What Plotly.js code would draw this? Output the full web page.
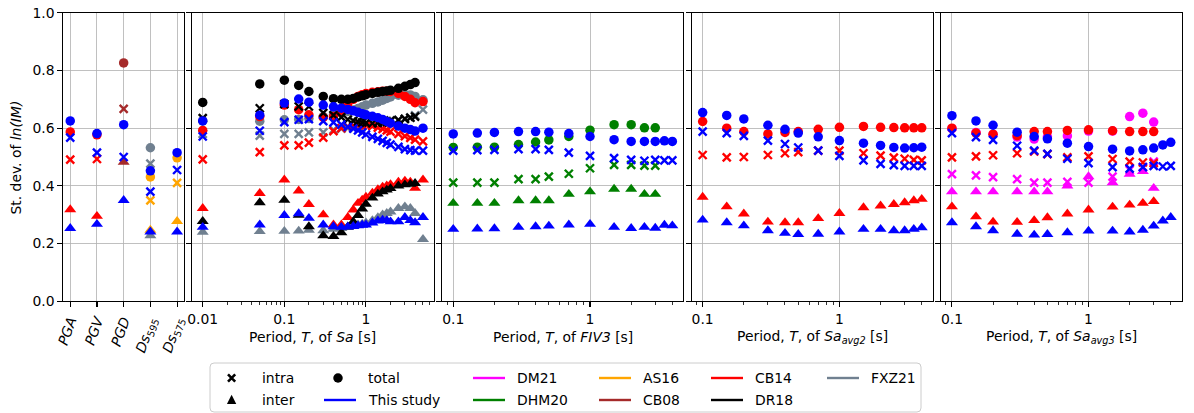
<!DOCTYPE html>
<html>
<head>
<meta charset="utf-8">
<script src="https://cdn.plot.ly/plotly-3.0.1.min.js"></script>
<style>
  html, body { margin: 0; padding: 0; background: #ffffff; }
  #chart { width: 1194px; height: 413px; }
</style>
</head>
<body>
<div id="chart"></div>
<script>
// ---------------- data ----------------
// Scalar intensity measures (first panel)
const imNames = ['PGA', 'PGV', 'PGD', 'Ds595', 'Ds575'];
const imTickText = ['<i>PGA</i>', '<i>PGV</i>', '<i>PGD</i>', '<i>Ds</i><sub>595</sub>', '<i>Ds</i><sub>575</sub>'];

const thisStudyIM = ['PGA', 'PGV', 'PGD', 'Ds595', 'Ds575'];
const thisStudyIMTotal = [0.625, 0.581, 0.612, 0.452, 0.515];
const thisStudyIMIntra = [0.567, 0.515, 0.500, 0.380, 0.455];
const thisStudyIMInter = [0.253, 0.267, 0.350, 0.241, 0.241];

const cb14IM = ['PGA', 'PGV'];
const cb14IMTotal = [0.587, 0.577];
const cb14IMIntra = [0.491, 0.493];
const cb14IMInter = [0.318, 0.295];

const cb08IM = ['PGD'];
const cb08IMTotal = [0.826];
const cb08IMIntra = [0.667];
const cb08IMInter = [0.482];

const as16IM = ['Ds595', 'Ds575'];
const as16IMTotal = [0.431, 0.497];
const as16IMIntra = [0.350, 0.410];
const as16IMInter = [0.247, 0.277];

const fxz21IM = ['Ds595'];
const fxz21IMTotal = [0.532];
const fxz21IMIntra = [0.477];
const fxz21IMInter = [0.228];

// Spectral acceleration, Sa(T)
const saPeriods = [0.01, 0.05, 0.1, 0.15, 0.2, 0.3, 0.4, 0.5, 0.6, 0.7, 0.8, 0.9, 1.0, 1.2, 1.4, 1.6, 1.8, 2.0, 2.5, 3.0, 3.5, 4.0, 5.0];
const saThisTotal = [0.625, 0.645, 0.687, 0.701, 0.690, 0.680, 0.674, 0.669, 0.665, 0.660, 0.655, 0.650, 0.646, 0.641, 0.636, 0.630, 0.623, 0.617, 0.607, 0.600, 0.595, 0.590, 0.600];
const saThisIntra = [0.571, 0.591, 0.621, 0.629, 0.631, 0.624, 0.620, 0.612, 0.604, 0.598, 0.592, 0.585, 0.578, 0.570, 0.563, 0.556, 0.549, 0.543, 0.535, 0.527, 0.524, 0.522, 0.522];
const saThisInter = [0.257, 0.265, 0.298, 0.304, 0.288, 0.265, 0.259, 0.257, 0.258, 0.260, 0.262, 0.264, 0.265, 0.272, 0.279, 0.282, 0.280, 0.276, 0.276, 0.291, 0.280, 0.273, 0.291];

const saCB14Total = [0.592, 0.640, 0.680, 0.664, 0.646, 0.637, 0.640, 0.660, 0.685, 0.700, 0.710, 0.716, 0.720, 0.724, 0.726, 0.728, 0.728, 0.727, 0.720, 0.710, 0.700, 0.688, 0.692];
const saCB14Intra = [0.492, 0.517, 0.540, 0.540, 0.550, 0.567, 0.590, 0.600, 0.605, 0.608, 0.610, 0.610, 0.610, 0.607, 0.602, 0.597, 0.592, 0.588, 0.580, 0.572, 0.566, 0.560, 0.554];
const saCB14Inter = [0.322, 0.374, 0.421, 0.383, 0.336, 0.300, 0.265, 0.265, 0.291, 0.317, 0.340, 0.351, 0.361, 0.375, 0.387, 0.396, 0.400, 0.405, 0.413, 0.417, 0.413, 0.392, 0.421];

const saPeriodsDR18 = [0.01, 0.05, 0.1, 0.15, 0.2, 0.3, 0.4, 0.5, 0.6, 0.7, 0.8, 0.9, 1.0, 1.2, 1.4, 1.6, 1.8, 2.0, 2.5, 3.0, 3.5, 4.0];
const saDR18Total = [0.689, 0.753, 0.766, 0.748, 0.727, 0.710, 0.702, 0.700, 0.700, 0.703, 0.708, 0.712, 0.716, 0.720, 0.724, 0.727, 0.729, 0.731, 0.738, 0.745, 0.751, 0.758];
const saDR18Intra = [0.635, 0.669, 0.683, 0.675, 0.675, 0.653, 0.645, 0.638, 0.630, 0.625, 0.622, 0.620, 0.618, 0.617, 0.618, 0.620, 0.622, 0.625, 0.628, 0.632, 0.636, 0.640];
const saDR18Inter = [0.277, 0.342, 0.351, 0.299, 0.259, 0.228, 0.225, 0.238, 0.258, 0.276, 0.298, 0.320, 0.337, 0.358, 0.372, 0.380, 0.386, 0.391, 0.400, 0.404, 0.406, 0.409];

const saFXZ21Total = [0.625, 0.624, 0.629, 0.630, 0.633, 0.640, 0.646, 0.652, 0.658, 0.663, 0.668, 0.674, 0.680, 0.686, 0.691, 0.697, 0.703, 0.708, 0.714, 0.716, 0.715, 0.710, 0.698];
const saFXZ21Intra = [0.580, 0.574, 0.580, 0.580, 0.585, 0.585, 0.594, 0.598, 0.600, 0.603, 0.606, 0.609, 0.612, 0.616, 0.620, 0.623, 0.625, 0.627, 0.629, 0.632, 0.637, 0.644, 0.664];
const saFXZ21Inter = [0.240, 0.242, 0.243, 0.244, 0.247, 0.245, 0.250, 0.253, 0.257, 0.261, 0.265, 0.268, 0.272, 0.280, 0.290, 0.300, 0.305, 0.310, 0.322, 0.328, 0.322, 0.305, 0.215];

// Filtered incremental velocity, FIV3(T)
const fivPeriods = [0.1, 0.15, 0.2, 0.3, 0.4, 0.5, 0.7, 1.0, 1.5, 2.0, 2.5, 3.0, 3.5, 4.0];
const fivThisTotal = [0.580, 0.583, 0.585, 0.588, 0.588, 0.586, 0.581, 0.571, 0.560, 0.554, 0.554, 0.554, 0.556, 0.554];
const fivThisIntra = [0.522, 0.524, 0.525, 0.527, 0.527, 0.525, 0.515, 0.504, 0.496, 0.490, 0.487, 0.490, 0.488, 0.488];
const fivThisInter = [0.250, 0.251, 0.252, 0.257, 0.259, 0.261, 0.265, 0.267, 0.257, 0.253, 0.257, 0.254, 0.264, 0.262];

const fivPeriodsDHM20 = [0.1, 0.15, 0.2, 0.3, 0.4, 0.5, 0.7, 1.0, 1.5, 2.0, 2.5, 3.0];
const fivDHM20Total = [0.533, 0.534, 0.534, 0.543, 0.552, 0.559, 0.571, 0.593, 0.612, 0.612, 0.601, 0.601];
const fivDHM20Intra = [0.411, 0.411, 0.411, 0.423, 0.423, 0.432, 0.442, 0.461, 0.473, 0.473, 0.470, 0.470];
const fivDHM20Inter = [0.340, 0.340, 0.340, 0.349, 0.349, 0.349, 0.371, 0.380, 0.389, 0.389, 0.371, 0.371];

// Average spectral acceleration, Sa_avg2(T)
const avg2Periods = [0.1, 0.15, 0.2, 0.3, 0.4, 0.5, 0.7, 1.0, 1.5, 2.0, 2.5, 3.0, 3.5, 4.0];
const avg2ThisTotal = [0.654, 0.644, 0.632, 0.610, 0.596, 0.583, 0.570, 0.557, 0.548, 0.540, 0.533, 0.531, 0.532, 0.534];
const avg2ThisIntra = [0.588, 0.583, 0.573, 0.557, 0.545, 0.533, 0.522, 0.504, 0.488, 0.476, 0.472, 0.469, 0.469, 0.469];
const avg2ThisInter = [0.282, 0.273, 0.262, 0.245, 0.236, 0.232, 0.233, 0.241, 0.250, 0.250, 0.245, 0.245, 0.250, 0.255];
const avg2CB14Total = [0.623, 0.600, 0.588, 0.580, 0.585, 0.588, 0.596, 0.603, 0.606, 0.603, 0.602, 0.601, 0.601, 0.601];
const avg2CB14Intra = [0.507, 0.499, 0.500, 0.507, 0.513, 0.517, 0.522, 0.522, 0.513, 0.505, 0.498, 0.494, 0.490, 0.488];
const avg2CB14Inter = [0.361, 0.328, 0.303, 0.275, 0.273, 0.273, 0.287, 0.305, 0.325, 0.331, 0.336, 0.342, 0.349, 0.354];

// Average spectral acceleration, Sa_avg3(T)
const avg3Periods = [0.1, 0.15, 0.2, 0.3, 0.4, 0.5, 0.7, 1.0, 1.5, 2.0, 2.5, 3.0, 3.5, 4.0];
const avg3ThisTotal = [0.643, 0.625, 0.610, 0.586, 0.571, 0.563, 0.548, 0.536, 0.527, 0.521, 0.525, 0.531, 0.542, 0.551];
const avg3ThisIntra = [0.583, 0.569, 0.559, 0.539, 0.522, 0.511, 0.494, 0.479, 0.465, 0.460, 0.465, 0.469, 0.467, 0.469];
const avg3ThisInter = [0.273, 0.259, 0.245, 0.233, 0.230, 0.232, 0.238, 0.244, 0.244, 0.241, 0.247, 0.261, 0.279, 0.291];
const avg3PeriodsShort = [0.1, 0.15, 0.2, 0.3, 0.4, 0.5, 0.7, 1.0, 1.5, 2.0, 2.5, 3.0];
const avg3CB14Total = [0.600, 0.583, 0.579, 0.574, 0.588, 0.588, 0.592, 0.594, 0.591, 0.588, 0.588, 0.588];
const avg3CB14Intra = [0.499, 0.502, 0.506, 0.513, 0.519, 0.510, 0.499, 0.502, 0.493, 0.484, 0.481, 0.479];
const avg3CB14Inter = [0.328, 0.293, 0.275, 0.274, 0.280, 0.290, 0.303, 0.317, 0.327, 0.334, 0.340, 0.346];
const avg3DM21Total = [0.598, 0.585, 0.578, 0.569, 0.562, 0.570, 0.573, 0.590, 0.590, 0.640, 0.652, 0.621];
const avg3DM21Intra = [0.441, 0.436, 0.430, 0.423, 0.411, 0.411, 0.414, 0.411, 0.432, 0.455, 0.465, 0.484];
const avg3DM21Inter = [0.380, 0.380, 0.380, 0.380, 0.380, 0.380, 0.400, 0.432, 0.411, 0.441, 0.450, 0.392];

// Model names and colours
const modelNames = ['This study', 'DM21', 'DHM20', 'AS16', 'CB08', 'CB14', 'DR18', 'FXZ21'];
const modelColors = {
  'This study': '#0000ff', 'DM21': '#ff00ff', 'DHM20': '#008000', 'AS16': '#ffa500',
  'CB08': '#a52a2a', 'CB14': '#ff0000', 'DR18': '#000000', 'FXZ21': '#708090'
};

// ---------------- figure geometry (pixels) ----------------
const W = 1194, H = 413;
const px = v => v / W;
const py = v => 1 - v / H;
const FONT = 'DejaVu Sans, Verdana, sans-serif';
const FS = 13.9;
const yDomain = [py(301.3), py(12.7)];
const panels = [
  [63.3, 184.3], [191.7, 434.0], [442.3, 683.3], [691.7, 932.7], [941.0, 1181.7]
];

// ---------------- traces ----------------
const traces = [];
function addPoints(ax, xs, ys, color, kind) {
  let marker;
  if (kind === 'total') marker = { symbol: 'circle', size: 9.5, color: color, line: { width: 0 } };
  else if (kind === 'inter') marker = { symbol: 'triangle-up', size: 10.5, color: color, line: { width: 0 } };
  else marker = { symbol: 'x-thin-open', size: 8, color: color, line: { color: color, width: 2.4 } };
  traces.push({
    type: 'scatter', mode: 'markers', x: xs, y: ys,
    xaxis: 'x' + (ax === 1 ? '' : ax), yaxis: 'y' + (ax === 1 ? '' : ax),
    marker: marker, hoverinfo: 'skip', showlegend: false, cliponaxis: true
  });
}
function addModel(ax, xs, tot, intra, inter, name) {
  const c = modelColors[name];
  addPoints(ax, xs, tot, c, 'total');
  addPoints(ax, xs, intra, c, 'intra');
  addPoints(ax, xs, inter, c, 'inter');
}

// Panel 1: scalar IMs
addModel(1, fxz21IM, fxz21IMTotal, fxz21IMIntra, fxz21IMInter, 'FXZ21');
addModel(1, as16IM, as16IMTotal, as16IMIntra, as16IMInter, 'AS16');
addModel(1, cb08IM, cb08IMTotal, cb08IMIntra, cb08IMInter, 'CB08');
addModel(1, cb14IM, cb14IMTotal, cb14IMIntra, cb14IMInter, 'CB14');
addModel(1, thisStudyIM, thisStudyIMTotal, thisStudyIMIntra, thisStudyIMInter, 'This study');

// Panel 2: Sa
addModel(2, saPeriods, saFXZ21Total, saFXZ21Intra, saFXZ21Inter, 'FXZ21');
addModel(2, saPeriods, saCB14Total, saCB14Intra, saCB14Inter, 'CB14');
addModel(2, saPeriodsDR18, saDR18Total, saDR18Intra, saDR18Inter, 'DR18');
addModel(2, saPeriods, saThisTotal, saThisIntra, saThisInter, 'This study');

// Panel 3: FIV3
addModel(3, fivPeriodsDHM20, fivDHM20Total, fivDHM20Intra, fivDHM20Inter, 'DHM20');
addModel(3, fivPeriods, fivThisTotal, fivThisIntra, fivThisInter, 'This study');

// Panel 4: Sa_avg2
addModel(4, avg2Periods, avg2CB14Total, avg2CB14Intra, avg2CB14Inter, 'CB14');
addModel(4, avg2Periods, avg2ThisTotal, avg2ThisIntra, avg2ThisInter, 'This study');

// Panel 5: Sa_avg3
addModel(5, avg3PeriodsShort, avg3DM21Total, avg3DM21Intra, avg3DM21Inter, 'DM21');
addModel(5, avg3PeriodsShort, avg3CB14Total, avg3CB14Intra, avg3CB14Inter, 'CB14');
addModel(5, avg3Periods, avg3ThisTotal, avg3ThisIntra, avg3ThisInter, 'This study');

// ---------------- axes ----------------
const tickFont = { family: FONT, size: FS, color: '#000000' };
const common = {
  showline: true, linecolor: '#000000', linewidth: 1.1, mirror: true,
  ticks: 'outside', ticklen: 4.9, tickwidth: 1.1, tickcolor: '#000000',
  showgrid: true, gridcolor: '#b0b0b0', gridwidth: 0.8, zeroline: false,
  tickfont: tickFont, fixedrange: true
};
const minorLog = (vals) => ({
  tickmode: 'array', tickvals: vals, ticks: 'outside', ticklen: 2.8,
  tickwidth: 0.8, tickcolor: '#000000', showgrid: false
});
const minorSa = [0.02, 0.03, 0.04, 0.05, 0.06, 0.07, 0.08, 0.09, 0.2, 0.3, 0.4, 0.5, 0.6, 0.7, 0.8, 0.9, 2, 3, 4, 5, 6];
const minorShort = [0.09, 0.2, 0.3, 0.4, 0.5, 0.6, 0.7, 0.8, 0.9, 2, 3, 4];

const layout = {
  width: W, height: H,
  margin: { l: 0, r: 0, t: 0, b: 0, pad: 0 },
  paper_bgcolor: '#ffffff', plot_bgcolor: '#ffffff',
  showlegend: false,
  font: { family: FONT, size: FS, color: '#000000' },
  xaxis: Object.assign({}, common, {
    domain: [px(panels[0][0]), px(panels[0][1])], anchor: 'y',
    type: 'category', categoryorder: 'array', categoryarray: imNames,
    range: [-0.26, 4.27], tickmode: 'array', tickvals: imNames, ticktext: imTickText,
    tickangle: -70
  }),
  xaxis2: Object.assign({}, common, {
    domain: [px(panels[1][0]), px(panels[1][1])], anchor: 'y2',
    type: 'log', range: [-2.135, 0.834], tickmode: 'array',
    tickvals: [0.01, 0.1, 1], ticktext: ['0.01', '0.1', '1'], minor: minorLog(minorSa)
  }),
  xaxis3: Object.assign({}, common, {
    domain: [px(panels[2][0]), px(panels[2][1])], anchor: 'y3',
    type: 'log', range: [-1.0801, 0.6822], tickmode: 'array',
    tickvals: [0.1, 1], ticktext: ['0.1', '1'], minor: minorLog(minorShort)
  }),
  xaxis4: Object.assign({}, common, {
    domain: [px(panels[3][0]), px(panels[3][1])], anchor: 'y4',
    type: 'log', range: [-1.0801, 0.6822], tickmode: 'array',
    tickvals: [0.1, 1], ticktext: ['0.1', '1'], minor: minorLog(minorShort)
  }),
  xaxis5: Object.assign({}, common, {
    domain: [px(panels[4][0]), px(panels[4][1])], anchor: 'y5',
    type: 'log', range: [-1.0801, 0.6822], tickmode: 'array',
    tickvals: [0.1, 1], ticktext: ['0.1', '1'], minor: minorLog(minorShort)
  }),
  shapes: [],
  annotations: []
};
const yTicks = [0, 0.2, 0.4, 0.6, 0.8, 1.0];
const yTickText = ['0.0', '0.2', '0.4', '0.6', '0.8', '1.0'];
for (let i = 1; i <= 5; i++) {
  const key = 'yaxis' + (i === 1 ? '' : i);
  layout[key] = Object.assign({}, common, {
    domain: yDomain, anchor: 'x' + (i === 1 ? '' : i), range: [0, 1],
    tickmode: 'array', tickvals: yTicks, ticktext: yTickText,
    showticklabels: i === 1
  });
}

// ---------------- axis titles ----------------
const titleFont = { family: FONT, size: FS, color: '#000000' };
layout.annotations.push({
  text: 'St. dev. of <i>ln(IM)</i>', xref: 'paper', yref: 'paper',
  x: px(15), y: py(157.5), textangle: -90, showarrow: false,
  xanchor: 'center', yanchor: 'middle', font: titleFont
});
const xTitles = [
  null,
  'Period, <i>T</i>, of <i>Sa</i> [s]',
  'Period, <i>T</i>, of <i>FIV3</i> [s]',
  'Period, <i>T</i>, of <i>Sa</i><sub><i>avg2</i></sub> [s]',
  'Period, <i>T</i>, of <i>Sa</i><sub><i>avg3</i></sub> [s]'
];
for (let i = 1; i < 5; i++) {
  layout.annotations.push({
    text: xTitles[i], xref: 'paper', yref: 'paper',
    x: px((panels[i][0] + panels[i][1]) / 2), y: py(337), showarrow: false,
    xanchor: 'center', yanchor: 'middle', font: titleFont
  });
}

// ---------------- legend (drawn as shapes and labels) ----------------
const legBox = { x0: 210, x1: 921, y0: 363, y1: 412, r: 4 };
(function () {
  const { x0, x1, y0, y1, r } = legBox;
  const p = (x, y) => px(x) + ',' + py(y);
  layout.shapes.push({
    type: 'path', xref: 'paper', yref: 'paper',
    path: 'M' + p(x0 + r, y0) + ' L' + p(x1 - r, y0) + ' Q' + p(x1, y0) + ' ' + p(x1, y0 + r) +
      ' L' + p(x1, y1 - r) + ' Q' + p(x1, y1) + ' ' + p(x1 - r, y1) +
      ' L' + p(x0 + r, y1) + ' Q' + p(x0, y1) + ' ' + p(x0, y1 - r) +
      ' L' + p(x0, y0 + r) + ' Q' + p(x0, y0) + ' ' + p(x0 + r, y0) + ' Z',
    fillcolor: 'rgba(255,255,255,0.8)', line: { color: '#cccccc', width: 1 }
  });
})();
const legRows = [378, 400];
const legText = [259.6, 366, 515, 641, 753, 869];   // label start of each column
const handleLen = 32, handlePad = 10;
const legendEntries = [
  // [column, row, kind, label]
  [0, 0, 'intra', 'intra'], [0, 1, 'inter', 'inter'],
  [1, 0, 'total', 'total'], [1, 1, 'This study', 'This study'],
  [2, 0, 'DM21', 'DM21'], [2, 1, 'DHM20', 'DHM20'],
  [3, 0, 'AS16', 'AS16'], [3, 1, 'CB08', 'CB08'],
  [4, 0, 'CB14', 'CB14'], [4, 1, 'DR18', 'DR18'],
  [5, 0, 'FXZ21', 'FXZ21']
];
legendEntries.forEach(([c, r, kind, label]) => {
  const hx1 = legText[c] - handlePad, hx0 = hx1 - handleLen, cx = (hx0 + hx1) / 2 - 2, cy = legRows[r];
  const P = (x, y) => px(x) + ',' + py(y);
  if (kind === 'intra') {
    const s = 3.6;
    layout.shapes.push({
      type: 'path', xref: 'paper', yref: 'paper',
      path: 'M' + P(cx - s, cy - s) + ' L' + P(cx + s, cy + s) + ' M' + P(cx - s, cy + s) + ' L' + P(cx + s, cy - s),
      line: { color: '#000000', width: 2.6 }
    });
  } else if (kind === 'inter') {
    const s = 5.2;
    layout.shapes.push({
      type: 'path', xref: 'paper', yref: 'paper',
      path: 'M' + P(cx, cy - s) + ' L' + P(cx + s * 0.9, cy + s * 0.75) + ' L' + P(cx - s * 0.9, cy + s * 0.75) + ' Z',
      fillcolor: '#000000', line: { width: 0 }
    });
  } else if (kind === 'total') {
    const s = 4.75;
    layout.shapes.push({
      type: 'circle', xref: 'paper', yref: 'paper',
      x0: px(cx - s), x1: px(cx + s), y0: py(cy + s), y1: py(cy - s),
      fillcolor: '#000000', line: { width: 0 }
    });
  } else {
    layout.shapes.push({
      type: 'line', xref: 'paper', yref: 'paper',
      x0: px(hx0), x1: px(hx1), y0: py(cy), y1: py(cy),
      line: { color: modelColors[kind], width: 2.4 }
    });
  }
  layout.annotations.push({
    text: label, xref: 'paper', yref: 'paper', x: px(legText[c]), y: py(cy),
    xanchor: 'left', yanchor: 'middle', showarrow: false, font: titleFont
  });
});

Plotly.newPlot('chart', traces, layout, { staticPlot: true, displayModeBar: false });
</script>
</body>
</html>
